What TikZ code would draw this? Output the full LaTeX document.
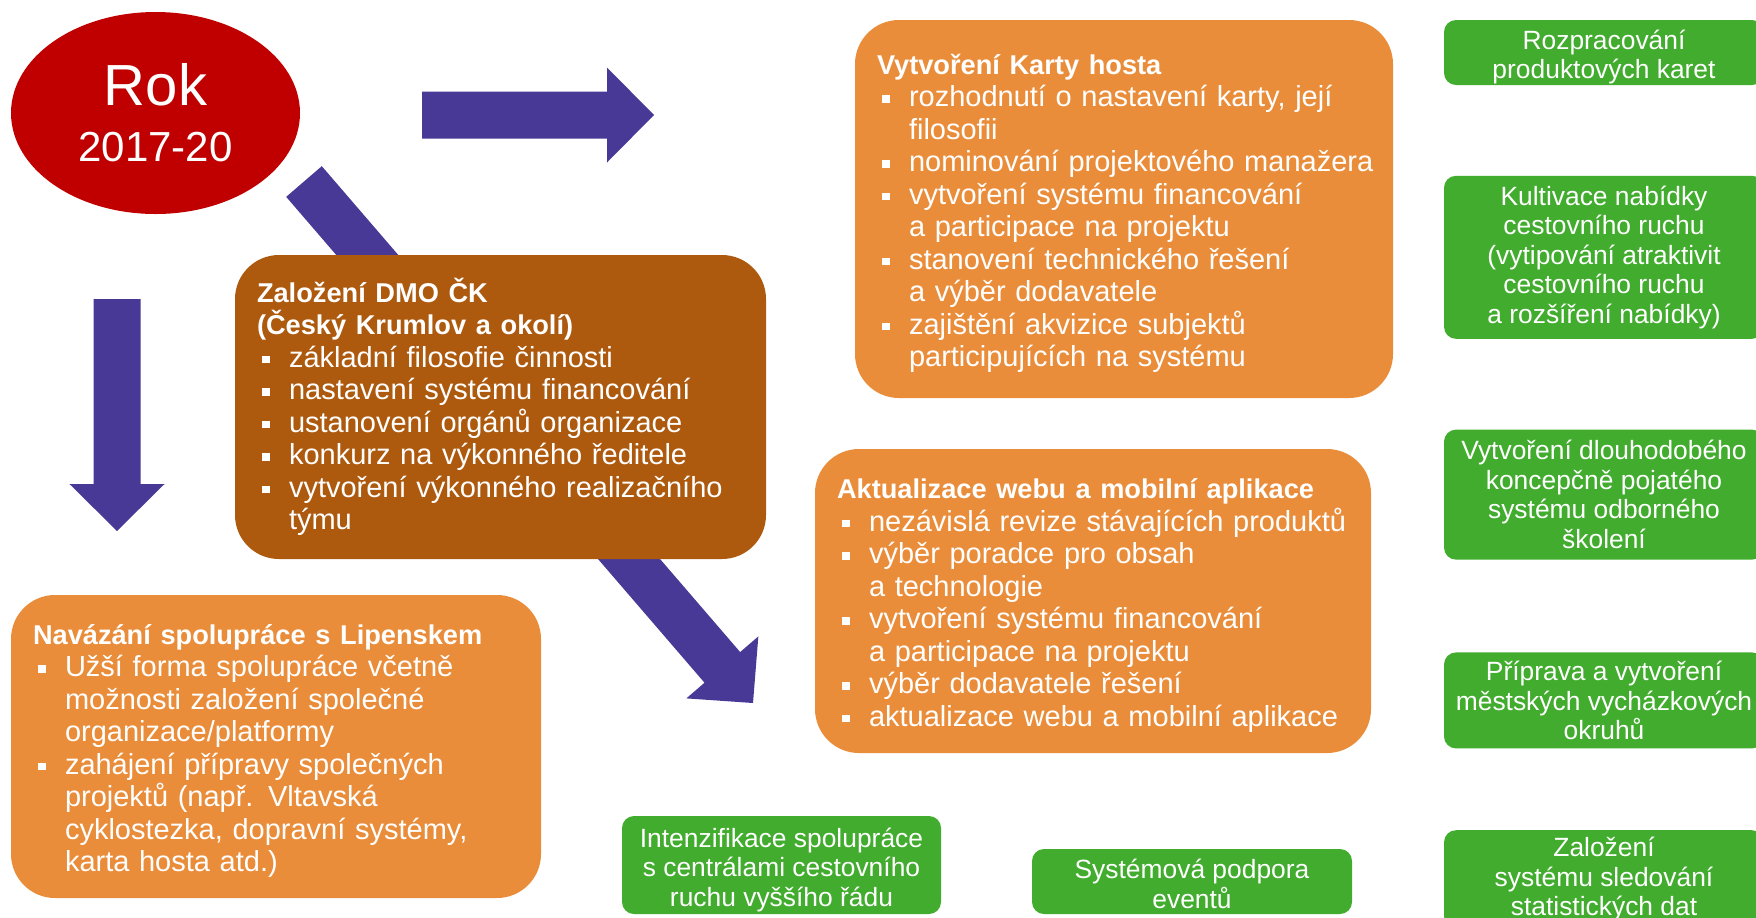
\documentclass[tikz,border=0pt]{standalone}
\usepackage{fontspec}
\setmainfont{Liberation Sans}
\usetikzlibrary{positioning, shapes.geometric, calc}

\definecolor{rokred}{HTML}{C00000}
\definecolor{arrowpurple}{HTML}{483996}
\definecolor{taskorange}{HTML}{EA8D3A}
\definecolor{dmobrown}{HTML}{AD5A0F}
\definecolor{stepgreen}{HTML}{41AC2D}

% list lines inside the task boxes
\newcommand{\sqbullet}{\rule[2pt]{3.8pt}{3.8pt}}
\newcommand{\itm}[1]{\makebox[16pt][l]{\hspace{2.5pt}\sqbullet}\mbox{#1}}
\newcommand{\cnt}[1]{\hspace*{16pt}\mbox{#1}}
\newcommand{\hd}[1]{\mbox{\fontsize{13.6}{16.25}\selectfont\bfseries #1}}
\newcommand{\topgap}[1][14.5pt]{\rule{0pt}{#1}}

% wide purple arrow from #1 to #2
\newcommand{\blockarrow}[2]{%
  \coordinate (hb) at ($(#2)!23.5pt!(#1)$);
  \fill[arrowpurple] ($(#1)!11.75pt!90:(#2)$) -- ($(hb)!11.75pt!90:(#2)$)
    -- ($(hb)!23.75pt!90:(#2)$) -- (#2) -- ($(hb)!23.75pt!-90:(#2)$)
    -- ($(hb)!11.75pt!-90:(#2)$) -- ($(#1)!11.75pt!-90:(#2)$) -- cycle;}

\begin{document}
\begin{tikzpicture}[
    x=0.5pt, y=-0.5pt,
    taskbox/.style={rounded corners=22pt, align=left, text=white,
                    inner xsep=11pt, inner ysep=0pt,
                    font=\fontsize{14.5}{16.25}\selectfont},
    orangebox/.style={taskbox, fill=taskorange},
    dmobox/.style={taskbox, fill=dmobrown},
    greenbox/.style={rounded corners=6pt, fill=stepgreen, text=white,
                     align=center, inner sep=0pt, minimum width=160pt,
                     font=\fontsize{13.2}{14.75}\selectfont},
]
\useasboundingbox (0,0) rectangle (1756,917);
\clip (0,0) rectangle (1756,917);

% === Arrows ===
\coordinate (rarrS) at (422,115);
\coordinate (rarrT) at (654,115);
\coordinate (darrS) at (117,299);
\coordinate (darrT) at (117,531);
\coordinate (diagS) at (304,181.5);
\coordinate (diagT) at (753,703);
\blockarrow{rarrS}{rarrT}
\blockarrow{darrS}{darrT}
\blockarrow{diagS}{diagT}

% === Year ===
\node[ellipse, fill=rokred, text=white, minimum width=144.5pt,
      minimum height=101pt, inner sep=0pt, align=center,
      font=\fontsize{21}{28}\selectfont] (rok) at (155.5,113)
  {{\fontsize{29}{28}\selectfont Rok}\\2017-20};

% === Task boxes ===
\node[orangebox, text width=247pt, minimum height=189pt] (karta) at (1124,209) {
  \topgap\hd{Vytvoření Karty hosta}\\
  \itm{rozhodnutí o nastavení karty, její}\\
  \cnt{filosofii}\\
  \itm{nominování projektového manažera}\\
  \itm{vytvoření systému financování}\\
  \cnt{a participace na projektu}\\
  \itm{stanovení technického řešení}\\
  \cnt{a výběr dodavatele}\\
  \itm{zajištění akvizice subjektů}\\
  \cnt{participujících na systému}};

\node[dmobox, text width=243.5pt, minimum height=152pt] (dmo) at (500.5,407) {
  \hd{Založení DMO ČK}\\
  \hd{(Český Krumlov a okolí)}\\
  \itm{základní filosofie činnosti}\\
  \itm{nastavení systému financování}\\
  \itm{ustanovení orgánů organizace}\\
  \itm{konkurz na výkonného ředitele}\\
  \itm{vytvoření výkonného realizačního}\\
  \cnt{týmu}};

\node[orangebox, text width=256pt, minimum height=152pt] (web) at (1093,601) {
  \topgap\hd{Aktualizace webu a mobilní aplikace}\\
  \itm{nezávislá revize stávajících produktů}\\
  \itm{výběr poradce pro obsah}\\
  \cnt{a technologie}\\
  \itm{vytvoření systému financování}\\
  \cnt{a participace na projektu}\\
  \itm{výběr dodavatele řešení}\\
  \itm{aktualizace webu a mobilní aplikace}};

\node[orangebox, text width=243pt, minimum height=151.5pt] (lipno) at (276,746.5) {
  \topgap\hd{Navázání spolupráce s Lipenskem}\\
  \itm{Užší forma spolupráce včetně}\\
  \cnt{možnosti založení společné}\\
  \cnt{organizace/platformy}\\
  \itm{zahájení přípravy společných}\\
  \cnt{projektů (např. Vltavská}\\
  \cnt{cyklostezka, dopravní systémy,}\\
  \cnt{karta hosta atd.)}};

% === Green steps, bottom ===
\node[greenbox, minimum width=159.5pt, minimum height=49pt] (centraly) at (781.5,865)
  {\topgap[14.3pt]Intenzifikace spolupráce\\s centrálami cestovního\\ruchu vyššího řádu};
\node[greenbox, minimum height=32.5pt] (eventy) at (1192,881.5)
  {\topgap[12.1pt]Systémová podpora\\eventů};

% === Green steps, right column ===
\node[greenbox, minimum height=32.5pt] (karty) at (1604,52.5)
  {\topgap[14.3pt]Rozpracování\\produktových karet};
\node[greenbox, minimum height=81.5pt, below=45pt of karty] (nabidka)
  {Kultivace nabídky\\cestovního ruchu\\(vytipování atraktivit\\cestovního ruchu\\a rozšíření nabídky)};
\node[greenbox, minimum height=65pt, below=45pt of nabidka] (skoleni)
  {Vytvoření dlouhodobého\\koncepčně pojatého\\systému odborného\\školení};
\node[greenbox, minimum height=48pt, below=46pt of skoleni] (okruhy)
  {Příprava a vytvoření\\městských vycházkových\\okruhů};
\node[greenbox, minimum height=49pt, below=40.5pt of okruhy] (statistika)
  {Založení\\systému sledování\\statistických dat};

\end{tikzpicture}
\end{document}
